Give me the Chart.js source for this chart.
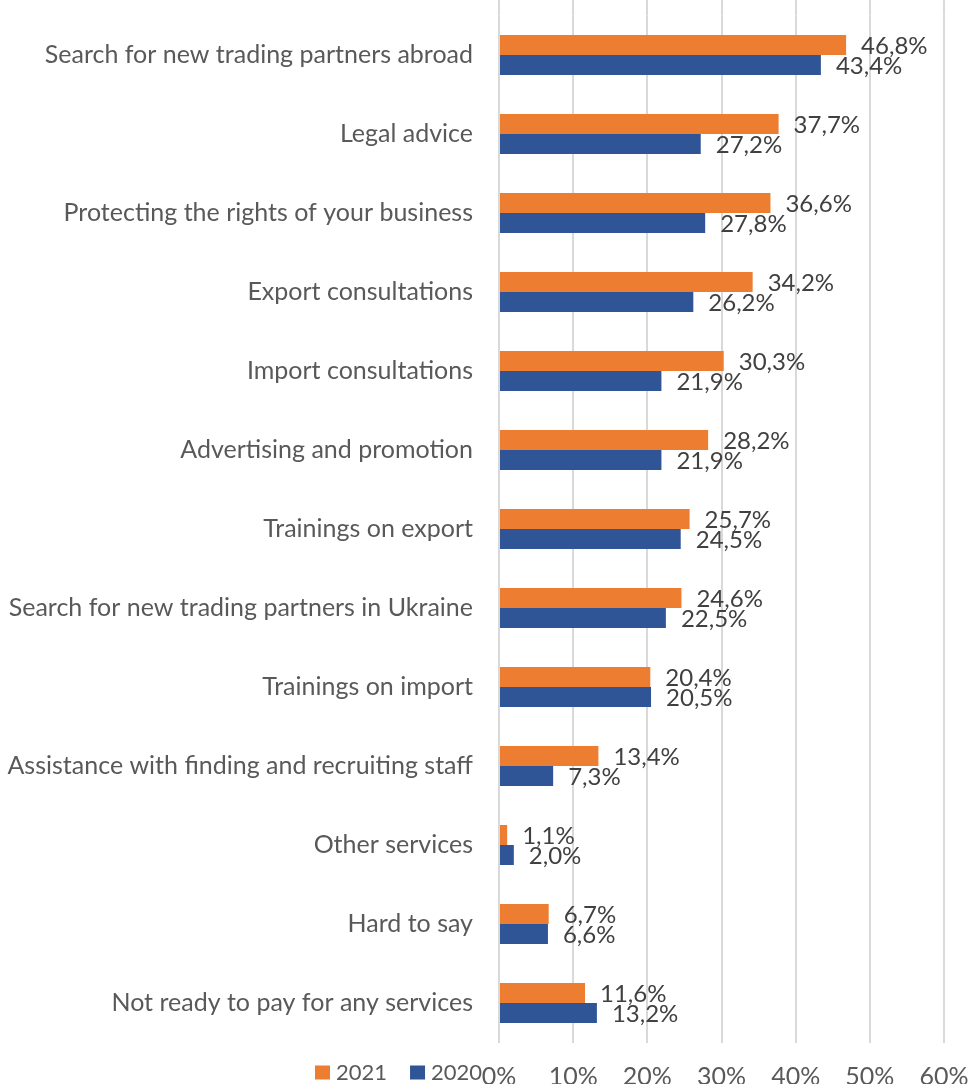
<!DOCTYPE html>
<html>
<head>
<meta charset="utf-8">
<script src="https://cdn.jsdelivr.net/npm/chart.js@4/dist/chart.umd.min.js"></script>
<style>
    body { margin: 0; background: #fff; }
    #wrap { width: 971px; height: 1084px; }
</style>
</head>
<body>
<div id="wrap"><canvas id="myChart"></canvas></div>
<script>
// Data
const services = [
    "Search for new trading partners abroad",
    "Legal advice",
    "Protecting the rights of your business",
    "Export consultations",
    "Import consultations",
    "Advertising and promotion",
    "Trainings on export",
    "Search for new trading partners in Ukraine",
    "Trainings on import",
    "Assistance with finding and recruiting staff",
    "Other services",
    "Hard to say",
    "Not ready to pay for any services",
];
const share2021 = [46.8, 37.7, 36.6, 34.2, 30.3, 28.2, 25.7, 24.6, 20.4, 13.4, 1.1, 6.7, 11.6];
const share2020 = [43.4, 27.2, 27.8, 26.2, 21.9, 21.9, 24.5, 22.5, 20.5, 7.3, 2.0, 6.6, 13.2];
const axisMin = 0;
const axisMax = 60;
const axisStep = 10;

const FONT = "Lato";
const textGrey = "#595959";
const gridGrey = "#D9D9D9";

const fmt = (v) => v.toFixed(1).replace(".", ",") + "%";

// --------------------------- Plugins ---------------------------
// vertical gridlines run up to the top edge of the canvas
const gridToTop = {
    id: "gridToTop",
    beforeDatasetsDraw(chart) {
        const { ctx, chartArea, scales } = chart;
        ctx.save();
        ctx.strokeStyle = gridGrey;
        ctx.lineWidth = 2;
        for (let v = axisMin; v <= axisMax; v += axisStep) {
            const x = Math.round(scales.x.getPixelForValue(v));
            ctx.beginPath();
            ctx.moveTo(x, 0);
            ctx.lineTo(x, chartArea.top);
            ctx.stroke();
        }
        ctx.restore();
    },
};

// value labels right of each bar
const barValues = {
    id: "barValues",
    afterDatasetsDraw(chart) {
        const { ctx } = chart;
        ctx.save();
        ctx.font = `24px ${FONT}`;
        ctx.fillStyle = "#404040";
        ctx.textAlign = "left";
        ctx.textBaseline = "middle";
        chart.data.datasets.forEach((ds, i) => {
            chart.getDatasetMeta(i).data.forEach((bar, j) => {
                ctx.fillText(fmt(ds.data[j]), bar.x + 15, bar.y + 1);
            });
        });
        ctx.restore();
    },
};

// legend sits on the same line as the x tick labels
const inlineLegend = {
    id: "inlineLegend",
    afterDraw(chart) {
        const { ctx } = chart;
        ctx.save();
        ctx.font = `22px ${FONT}`;
        ctx.textBaseline = "middle";
        ctx.textAlign = "left";
        let x = 315;
        const y = 1072.5;
        chart.data.datasets.forEach((ds) => {
            ctx.fillStyle = ds.backgroundColor;
            ctx.fillRect(x, y - 7, 15, 14);
            ctx.fillStyle = textGrey;
            ctx.fillText(ds.label, x + 21, y);
            x += 21 + ctx.measureText(ds.label).width + 23;
        });
        ctx.restore();
    },
};

// --------------------------- Chart ---------------------------
const ctx = document.querySelector("#myChart").getContext("2d");

const servicesChart = new Chart(ctx, {
    type: "bar",
    data: {
        labels: services,
        datasets: [
            {
                label: "2021",
                data: share2021,
                backgroundColor: "#ED7D31",
                barPercentage: 1,
                categoryPercentage: 0.506,
            },
            {
                label: "2020",
                data: share2020,
                backgroundColor: "#2F5597",
                barPercentage: 1,
                categoryPercentage: 0.506,
            },
        ],
    },
    options: {
        indexAxis: "y",
        animation: false,
        responsive: true,
        maintainAspectRatio: false,
        layout: {
            padding: { top: 15.5, right: 27, bottom: 0, left: 0 },
        },
        scales: {
            x: {
                min: axisMin,
                max: axisMax,
                ticks: {
                    stepSize: axisStep,
                    padding: 19,
                    color: textGrey,
                    font: { family: FONT, size: 25 },
                    callback: (v) => v + "%",
                },
                grid: {
                    color: gridGrey,
                    lineWidth: 2,
                    drawTicks: false,
                },
                border: { display: false },
                afterFit: (scale) => {
                    scale.height = 41.5;
                    scale.paddingLeft = 0;
                    scale.paddingRight = 0;
                },
            },
            y: {
                ticks: {
                    padding: 26,
                    color: textGrey,
                    font: { family: FONT, size: 25 },
                },
                grid: { display: false, drawTicks: false },
                border: { display: false },
                afterFit: (scale) => {
                    scale.width = 499;
                    scale.paddingTop = 0;
                    scale.paddingBottom = 0;
                },
            },
        },
        plugins: {
            legend: { display: false },
            tooltip: { enabled: false },
        },
    },
    plugins: [gridToTop, barValues, inlineLegend],
});
</script>
</body>
</html>
